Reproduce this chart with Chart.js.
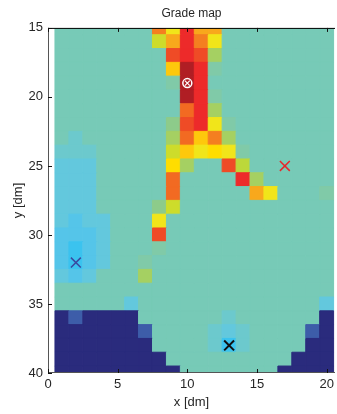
<!DOCTYPE html>
<html>
<head>
<meta charset="utf-8">
<script src="https://cdn.jsdelivr.net/npm/chart.js@4.4.0/dist/chart.umd.min.js"></script>
<style>
  html, body { margin: 0; padding: 0; background: #fff; }
</style>
</head>
<body>
<canvas id="gradeChart" width="337" height="414"></canvas>
<script>
// ===== Data =====
const xCells = [1, 2, 3, 4, 5, 6, 7, 8, 9, 10, 11, 12, 13, 14, 15, 16, 17, 18, 19, 20];
const yCells = [15, 16, 17, 18, 19, 20, 21, 22, 23, 24, 25, 26, 27, 28, 29, 30, 31, 32, 33, 34, 35, 36, 37, 38, 39, 40];
const xTicks = [0, 5, 10, 15, 20];
const yTicks = [15, 20, 25, 30, 35, 40];

// grade class of every cell: one row per y (15 -> 40), one value per x (1 -> 20)
const gradeRows = [
    [6, 6, 6, 6, 6, 6, 6, 16, 12, 19, 15, 15, 6, 6, 6, 6, 6, 6, 6, 6],
    [6, 6, 6, 6, 6, 6, 6, 11, 15, 19, 16, 12, 6, 6, 6, 6, 6, 6, 6, 6],
    [6, 6, 6, 6, 6, 6, 6, 6, 18, 19, 18, 9, 6, 6, 6, 6, 6, 6, 6, 6],
    [6, 6, 6, 6, 6, 6, 6, 6, 14, 20, 19, 7, 6, 6, 6, 6, 6, 6, 6, 6],
    [6, 6, 6, 6, 6, 6, 6, 6, 7, 20, 19, 6, 6, 6, 6, 6, 6, 6, 6, 6],
    [6, 6, 6, 6, 6, 6, 6, 6, 6, 20, 19, 7, 6, 6, 6, 6, 6, 6, 6, 6],
    [6, 6, 6, 6, 6, 6, 6, 6, 6, 17, 19, 9, 6, 6, 6, 6, 6, 6, 6, 6],
    [6, 6, 6, 6, 6, 6, 6, 6, 8, 18, 19, 12, 7, 6, 6, 6, 6, 6, 6, 6],
    [6, 5, 6, 6, 6, 6, 6, 6, 9, 17, 14, 16, 9, 6, 6, 6, 6, 6, 6, 6],
    [5, 5, 5, 6, 6, 6, 6, 6, 11, 14, 12, 13, 12, 7, 6, 6, 6, 6, 6, 6],
    [4, 4, 4, 6, 6, 6, 6, 6, 13, 9, 6, 6, 18, 10, 6, 6, 6, 6, 6, 6],
    [4, 4, 4, 6, 6, 6, 6, 6, 17, 6, 6, 6, 6, 19, 9, 6, 6, 6, 6, 6],
    [4, 4, 4, 6, 6, 6, 6, 6, 17, 6, 6, 6, 6, 6, 15, 12, 6, 6, 6, 7],
    [4, 4, 4, 6, 6, 6, 6, 8, 11, 6, 6, 6, 6, 6, 6, 6, 6, 6, 6, 6],
    [4, 3, 4, 4, 6, 6, 6, 12, 6, 6, 6, 6, 6, 6, 6, 6, 6, 6, 6, 6],
    [3, 3, 3, 4, 6, 6, 6, 18, 6, 6, 6, 6, 6, 6, 6, 6, 6, 6, 6, 6],
    [3, 2, 3, 4, 6, 6, 6, 7, 6, 6, 6, 6, 6, 6, 6, 6, 6, 6, 6, 6],
    [3, 2, 3, 4, 6, 6, 7, 6, 6, 6, 6, 6, 6, 6, 6, 6, 6, 6, 6, 6],
    [4, 3, 4, 6, 6, 6, 9, 6, 6, 6, 6, 6, 6, 6, 6, 6, 6, 6, 6, 6],
    [6, 6, 6, 6, 6, 6, 6, 6, 6, 6, 6, 6, 6, 6, 6, 6, 6, 6, 6, 6],
    [6, 6, 6, 6, 6, 4, 6, 6, 6, 6, 6, 6, 6, 6, 6, 6, 6, 6, 6, 4],
    [0, 1, 0, 0, 0, 0, 6, 6, 6, 6, 6, 6, 5, 6, 6, 6, 6, 6, 6, 0],
    [0, 0, 0, 0, 0, 0, 1, 6, 6, 6, 6, 5, 4, 5, 6, 6, 6, 6, 1, 0],
    [0, 0, 0, 0, 0, 0, 0, 6, 6, 6, 6, 5, 2, 5, 6, 6, 6, 6, 0, 0],
    [0, 0, 0, 0, 0, 0, 0, 0, 6, 6, 6, 6, 6, 6, 6, 6, 6, 0, 0, 0],
    [0, 0, 0, 0, 0, 0, 0, 0, 0, 6, 6, 6, 6, 6, 6, 6, 0, 0, 0, 0]
];

// sample markers
const holeMark = [{ x: 10, y: 19 }];
const redMark = [{ x: 17, y: 25 }];
const blueMark = [{ x: 2, y: 32 }];
const blackMark = [{ x: 13, y: 38 }];

// ===== Colours =====
const palette = [
    "#2a2b7d", "#3d5da9", "#3bc3ef", "#55c5e9", "#63c8dd", "#6cc9cd",
    "#77cab7", "#80caa8", "#8dcb8a", "#a5d062", "#bcd83a", "#cddc2b",
    "#f1e51a", "#ffdd00", "#fec80c", "#f8a81c", "#f47f20", "#f26a22",
    "#ef4b26", "#ed2a2a", "#b01e24"
];
const textColor = "#262626";

Chart.defaults.font.family = "'Liberation Sans', Arial, sans-serif";

// build cell points
const cellPoints = [];
const cellColors = [];
yCells.forEach((y, r) => {
    xCells.forEach((x, c) => {
        cellPoints.push({ x: x, y: y });
        cellColors.push(palette[gradeRows[r][c]]);
    });
});

// rect point side = 2 * r * SQRT1_2, so pick r to make one cell one unit wide
function cellRadius(ctx) {
    const xs = ctx.chart.scales.x;
    if (!xs) return 10;
    const w = Math.abs(xs.getPixelForValue(1) - xs.getPixelForValue(0));
    return w / (2 * Math.SQRT1_2);
}

// ===== Box and inward ticks (matlab style) =====
const axesBox = {
    id: "axesBox",
    afterDatasetsDraw(chart) {
        const { ctx, chartArea: a, scales: { x, y } } = chart;
        ctx.save();
        ctx.lineWidth = 1;

        ctx.strokeStyle = "#000";
        ctx.beginPath();
        ctx.moveTo(a.left, a.top + 0.5);
        ctx.lineTo(a.right, a.top + 0.5);
        ctx.stroke();

        ctx.strokeStyle = "#555";
        ctx.beginPath();
        ctx.moveTo(a.left + 0.5, a.top);
        ctx.lineTo(a.left + 0.5, a.bottom);
        ctx.moveTo(a.left, a.bottom - 0.5);
        ctx.lineTo(a.right, a.bottom - 0.5);
        ctx.stroke();

        ctx.strokeStyle = "#111";
        ctx.beginPath();
        xTicks.forEach(v => {
            const px = Math.round(x.getPixelForValue(v)) + 0.5;
            ctx.moveTo(px, a.top);
            ctx.lineTo(px, a.top + 4);
            ctx.moveTo(px, a.bottom);
            ctx.lineTo(px, a.bottom - 4);
        });
        yTicks.forEach(v => {
            const py = Math.round(y.getPixelForValue(v)) + 0.5;
            ctx.moveTo(a.left, py);
            ctx.lineTo(a.left + 4, py);
        });
        ctx.stroke();
        ctx.restore();
    }
};

// ===== Chart =====
const chart = new Chart(document.getElementById("gradeChart").getContext("2d"), {
    type: "scatter",
    data: {
        datasets: [
            {
                label: "hole ring",
                data: holeMark,
                order: 0,
                pointStyle: "circle",
                radius: 4.5,
                backgroundColor: "rgba(0,0,0,0)",
                borderColor: "#fff",
                borderWidth: 1.5,
                clip: false
            },
            {
                label: "hole cross",
                data: holeMark,
                order: 0,
                pointStyle: "crossRot",
                radius: 3.5,
                borderColor: "#fff",
                borderWidth: 1.2,
                clip: false
            },
            {
                label: "red",
                data: redMark,
                order: 0,
                pointStyle: "crossRot",
                radius: 7,
                borderColor: "#e8262a",
                borderWidth: 1.5,
                clip: false
            },
            {
                label: "blue",
                data: blueMark,
                order: 0,
                pointStyle: "crossRot",
                radius: 7,
                borderColor: "#3a4aa0",
                borderWidth: 1.5,
                clip: false
            },
            {
                label: "black",
                data: blackMark,
                order: 0,
                pointStyle: "crossRot",
                radius: 7,
                borderColor: "#111",
                borderWidth: 2,
                clip: false
            },
            {
                label: "grade",
                data: cellPoints,
                order: 1,
                pointStyle: "rect",
                radius: cellRadius,
                backgroundColor: cellColors,
                borderColor: cellColors,
                borderWidth: 1,
                clip: 0
            }
        ]
    },
    options: {
        responsive: false,
        animation: false,
        events: [],
        layout: { autoPadding: false, padding: { left: 0, right: 2, top: 0, bottom: 0 } },
        plugins: {
            legend: { display: false },
            tooltip: { enabled: false },
            title: {
                display: true,
                text: "Grade map",
                fullSize: false,
                color: textColor,
                font: { size: 12, weight: "normal" },
                padding: { top: 6, bottom: 7.5 }
            }
        },
        scales: {
            x: {
                type: "linear",
                min: 0,
                max: 20.6,
                afterBuildTicks: s => { s.ticks = xTicks.map(v => ({ value: v })); },
                afterFit: s => { s.height = 41; s.paddingLeft = 0; s.paddingRight = 0; },
                grid: { display: false, drawTicks: false },
                border: { display: false },
                ticks: { color: textColor, font: { size: 13 }, padding: 4, maxRotation: 0, autoSkip: false },
                title: { display: true, text: "x [dm]", color: textColor, font: { size: 13 }, padding: { top: 0, bottom: 4 } }
            },
            y: {
                type: "linear",
                reverse: true,
                min: 15,
                max: 40,
                afterBuildTicks: s => { s.ticks = yTicks.map(v => ({ value: v })); },
                afterFit: s => { s.width = 48; s.paddingTop = 0; s.paddingBottom = 0; },
                grid: { display: false, drawTicks: false },
                border: { display: false },
                ticks: { color: textColor, font: { size: 13 }, padding: 5, autoSkip: false },
                title: { display: true, text: "y [dm]", color: textColor, font: { size: 13 }, padding: { top: 11, bottom: 0 } }
            }
        }
    },
    plugins: [axesBox]
});
</script>
</body>
</html>
